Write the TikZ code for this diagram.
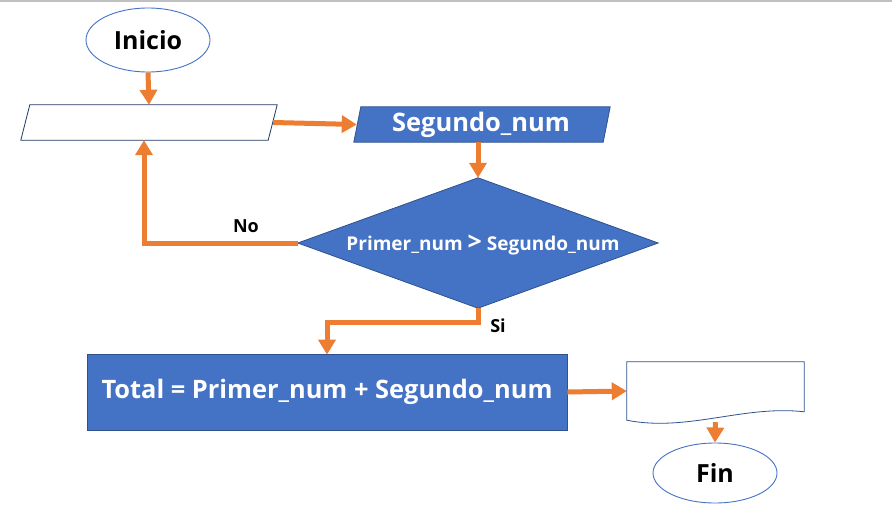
\documentclass[tikz,border=0pt]{standalone}
\usepackage{fontspec}
\setmainfont{Open Sans}
\usetikzlibrary{shapes.geometric,arrows.meta,calc}
\definecolor{fillblue}{HTML}{4472C4}
\definecolor{edgeblue}{HTML}{2F528F}
\definecolor{navy}{HTML}{1F3864}
\definecolor{flow}{HTML}{ED7D31}
\definecolor{topline}{HTML}{C0C0C0}
\tikzset{
  term/.style={ellipse, draw=fillblue, line width=0.9pt, fill=white, inner sep=0pt,
    minimum width=124pt, font=\bfseries\fontsize{25}{27}\selectfont},
  holder/.style={rectangle, draw=none, inner sep=0pt},
  bluefill/.style={fill=fillblue, draw=edgeblue, line width=0.8pt},
  whitetext/.style={text=white},
  flowline/.style={draw=flow, line width=5pt, -{Triangle[width=17pt,length=15pt]}},
  lab/.style={font=\bfseries\fontsize{18}{20}\selectfont, inner sep=0pt}
}
\begin{document}
\begin{tikzpicture}[x=1pt,y=-1pt]
\useasboundingbox (0,0) rectangle (892,504);
\fill[white] (0,0) rectangle (892,504);
\draw[topline, line width=1.5pt] (0,0.75) -- (892,0.75);

% input parallelogram (empty)
\node[holder, minimum width=256pt, minimum height=35pt] (p1) at (149,122.5) {};
\draw[draw=navy, line width=0.8pt, fill=white]
  ($(p1.north west)+(9,0)$) -- (p1.north east) -- ($(p1.south east)+(-9,0)$) -- (p1.south west) -- cycle;
% Segundo_num parallelogram
\node[holder, minimum width=256pt, minimum height=35pt] (p2) at (482,124.5) {};
\draw[bluefill]
  ($(p2.north west)+(7,0)$) -- (p2.north east) -- ($(p2.south east)+(-7,0)$) -- (p2.south west) -- cycle;
\node[whitetext, font=\bfseries\fontsize{25.5}{27}\selectfont, inner sep=0pt] (p2t) at (481,124.5) {Segundo\_num};
% decision diamond
\node[holder, minimum width=360pt, minimum height=130pt] (dia) at (478,243) {};
\draw[bluefill] (dia.north) -- (dia.east) -- (dia.south) -- (dia.west) -- cycle;
\node[whitetext, font=\bfseries\fontsize{19}{21}\selectfont, inner sep=0pt] (diat) at (483,245)
  {Primer\_num {\fontsize{25}{21}\selectfont >} Segundo\_num};
% process
\node[rectangle, bluefill, whitetext, minimum width=480pt, minimum height=76pt, inner sep=0pt,
  font=\bfseries\fontsize{25.4}{27}\selectfont] (proc) at (327,392) {Total = Primer\_num + Segundo\_num};
% document
\node[holder, minimum width=177pt, minimum height=58pt] (doc) at (715.5,391) {};
\draw[draw=edgeblue, line width=0.8pt, fill=white]
  (doc.south west) -- (doc.north west) -- (doc.north east) -- ($(doc.north east)+(0,50)$)
  .. controls ($(doc.north east)+(-60,43)$) and ($(doc.south west)+(60,12)$) .. (doc.south west) -- cycle;
% terminals
\node[term, minimum height=64pt] (ini) at (148,40) {Inicio};
\node[term, minimum height=60pt] (fin) at (715,473) {Fin};

\node[lab] (no) at (246,226) {No};
\node[lab] (si) at (498,326) {Si};

\draw[flowline] (ini.south) -- (p1.north);
\draw[flowline] ([xshift=-4pt]p1.east) -- ([xshift=3pt]p2.west);
\draw[flowline] (p2.south -| dia.north) -- (dia.north);
\draw[flowline] (dia.west) -| ([xshift=-5pt]p1.south);
\draw[flowline] (dia.south) -- ++(0,14) -| ([yshift=-1pt]proc.north);
\draw[flowline] (proc.east) -- (doc.west);
\draw[flowline] ([yshift=-2pt]doc.south) -- (fin.north);
\end{tikzpicture}
\end{document}
